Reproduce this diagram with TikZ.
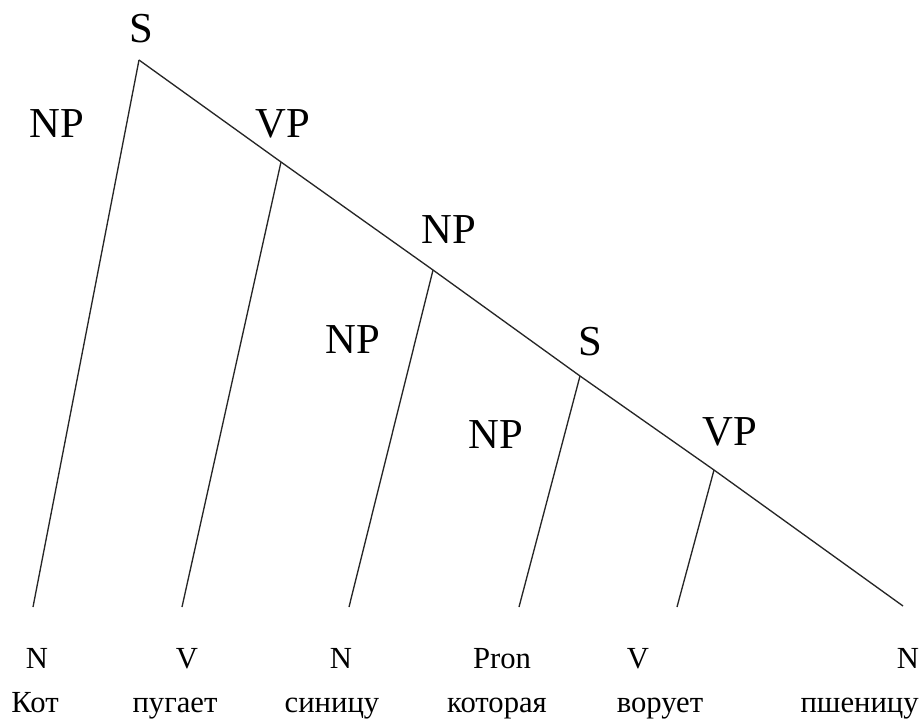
\documentclass[tikz,border=0pt]{standalone}
\usepackage{fontspec}
\setmainfont{Liberation Serif}
\usetikzlibrary{positioning}

\begin{document}
\begin{tikzpicture}[x=0.75pt,y=-0.75pt]
 \tikzstyle{phrase}=[font=\fontsize{32}{38}\selectfont,inner sep=0pt,anchor=base]
 \tikzstyle{cat}=[font=\fontsize{23}{28}\selectfont,inner sep=0pt,anchor=base]
 \tikzstyle{word}=[cat]
 \tikzstyle{branch}=[line width=1pt,black!85]
 \useasboundingbox (0,0) rectangle (922,721);
 % branch points on the spine
 \coordinate (sTop) at (139,60);
 \coordinate (vpA) at (281,162);
 \coordinate (npB) at (433,270);
 \coordinate (sRel) at (580,376);
 \coordinate (vpRel) at (714,470);
 % loose ends above the words
 \coordinate (endKot) at (33,607);
 \coordinate (endPug) at (182,607);
 \coordinate (endSin) at (349,607);
 \coordinate (endKot2) at (519,607);
 \coordinate (endVor) at (677,607);
 \coordinate (endPsh) at (903,606);
 \node (lblS) [phrase] at (141,42) {S};
 \node (lblNPa) [phrase] at (57,137) {NP};
 \node (lblVPa) [phrase] at (283,137) {VP};
 \node (lblNPb) [phrase] at (449,243) {NP};
 \node (lblNPc) [phrase] at (353,353) {NP};
 \node (lblSrel) [phrase] at (590,355) {S};
 \node (lblNPd) [phrase] at (496,448) {NP};
 \node (lblVPrel) [phrase] at (730,445) {VP};
 \node (catKot) [cat] at (37,668) {N};
 \node (catPug) [cat] at (187,668) {V};
 \node (catSin) [cat] at (341,668) {N};
 \node (catKot2) [cat] at (502,668) {Pron};
 \node (catVor) [cat] at (638,668) {V};
 \node (catPsh) [cat] at (908,668) {N};
 \node (wKot) [word] at (35,712) {Кот};
 \node (wPug) [word] at (175,712) {пугает};
 \node (wSin) [word] at (332,712) {синицу};
 \node (wKot2) [word] at (497,712) {которая};
 \node (wVor) [word] at (660,712) {ворует};
 \node (wPsh) [word,anchor=base east] at (919,712) {пшеницу};
 \draw[branch] (sTop) -- (vpA) -- (npB) -- (sRel) -- (vpRel) -- (endPsh);
 \draw[branch] (sTop) -- (endKot);
 \draw[branch] (vpA) -- (endPug);
 \draw[branch] (npB) -- (endSin);
 \draw[branch] (sRel) -- (endKot2);
 \draw[branch] (vpRel) -- (endVor);
\end{tikzpicture}
\end{document}
